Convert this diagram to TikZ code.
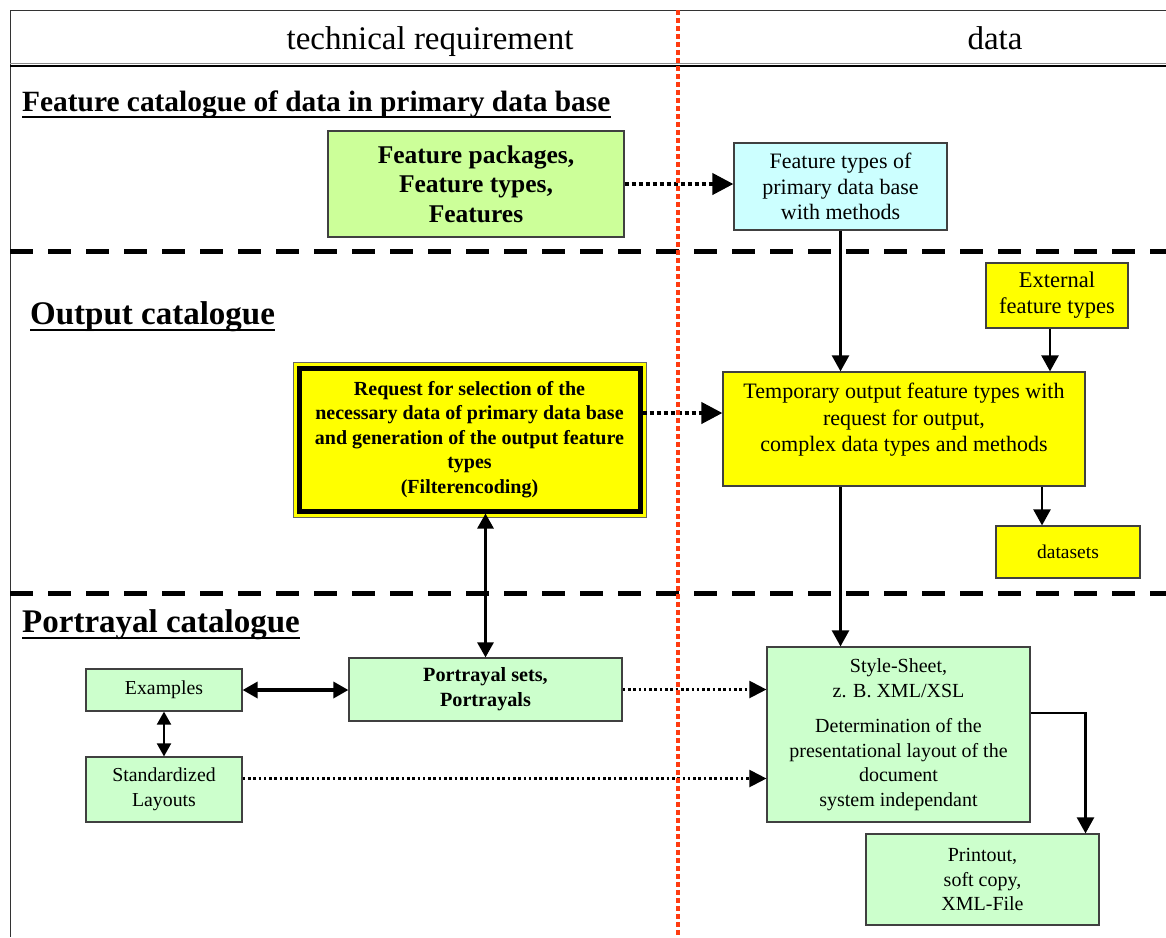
\documentclass[tikz,border=0pt]{standalone}
\usepackage{fontspec}
\setmainfont{Liberation Serif}
\usetikzlibrary{arrows.meta,calc}

\definecolor{lgreen}{HTML}{CCFFCC}
\definecolor{ygreen}{HTML}{CCFF99}
\definecolor{lcyan}{HTML}{CCFFFF}
\definecolor{yel}{HTML}{FFFF00}
\definecolor{sepred}{HTML}{FF3B10}

\begin{document}
\begin{tikzpicture}[x=1pt,y=-1pt,
  box/.style={draw=black!75, line width=1.2pt, align=center, inner sep=0pt},
  hdr/.style={inner sep=0pt, anchor=base, font=\fontsize{33}{36}\selectfont},
  title/.style={inner sep=0pt, anchor=base west, font=\fontsize{#1}{#1}\selectfont\bfseries},
  uline/.style={line width=2.6pt},
  sep/.style={line width=5pt, dash pattern=on 23pt off 15pt},
  solidarr/.style={line width=2.4pt, -{Triangle[length=16pt,width=17pt]}},
  bigdot/.style={line width=4pt, dash pattern=on 4pt off 3pt, -{Triangle[length=21pt,width=21pt]}},
  thindot/.style={line width=2.2pt, dash pattern=on 2.6pt off 2.7pt, -{Triangle[length=17pt,width=17pt]}},
  twoway/.style={line width=#1, {Triangle[length=15pt,width=16pt]}-{Triangle[length=15pt,width=16pt]}},
]
\useasboundingbox (0,0) rectangle (1166,937);

% frame and header
\draw[line width=1pt, black!80] (10,10) -- (1166,10);
\draw[line width=1pt, black!80] (10,10) -- (10,937);
\draw[line width=1pt, black!45] (10,63) -- (1166,63);
\draw[line width=2pt, black] (10,66) -- (1166,66);
\node[hdr] (hreq) at (430,49) {technical requirement};
\node[hdr] (hdat) at (995,49) {data};

% section separators
\draw[sep] (10,251) -- (1166,251);
\draw[sep] (10,593) -- (1166,593);

% section titles
\node[title=29.4] (t1) at (22,111) {Feature catalogue of data in primary data base};
\draw[uline] ([yshift=-6pt]t1.base west) -- ([yshift=-6pt]t1.base east);
\node[title=33] (t2) at (30,324) {Output catalogue};
\draw[uline] ([yshift=-6pt]t2.base west) -- ([yshift=-6pt]t2.base east);
\node[title=33] (t3) at (22,632) {Portrayal catalogue};
\draw[uline] ([yshift=-6pt]t3.base west) -- ([yshift=-6pt]t3.base east);

% feature catalogue
\node[box, fill=ygreen, minimum width=296pt, minimum height=106pt,
      font=\fontsize{25.5}{29.5}\selectfont\bfseries] (fp) at (476,184)
  {Feature packages,\\Feature types,\\Features};
\node[box, fill=lcyan, minimum width=213pt, minimum height=87pt,
      font=\fontsize{22}{25.5}\selectfont] (ft) at (840.5,186.5)
  {Feature types of\\primary data base\\with methods};

% output catalogue
\node[box, fill=yel, minimum width=142pt, minimum height=65pt,
      font=\fontsize{22.5}{26}\selectfont] (ext) at (1057,295.5)
  {External\\feature types};
\node[box, fill=yel, minimum width=362pt, minimum height=114pt] (tmp) at (904,429) {};
\node[inner sep=0pt, align=center, font=\fontsize{22}{26.5}\selectfont] (tmptxt) at (904,420)
  {Temporary output feature types with\\request for output,\\complex data types and methods};
\node[box, fill=yel, minimum width=144pt, minimum height=52pt,
      font=\fontsize{19.5}{22}\selectfont] (ds) at (1068,552) {datasets};

\draw[line width=0.8pt, black!60, fill=yel] (293,362) rectangle (646,517);
\node[draw=black, line width=5pt, fill=yel, align=center, inner sep=0pt,
      minimum width=341pt, minimum height=143pt,
      font=\fontsize{20}{24.5}\selectfont\bfseries] (req) at (469.5,439.5)
  {Request for selection of the\\necessary data of primary data base\\and generation of the output feature\\types\\(Filterencoding)};

% portrayal catalogue
\node[box, fill=lgreen, minimum width=273pt, minimum height=63pt,
      font=\fontsize{20.2}{25}\selectfont\bfseries] (ps) at (485.5,689.5)
  {Portrayal sets,\\Portrayals};
\node[box, fill=lgreen, minimum width=156pt, minimum height=42pt,
      font=\fontsize{19.8}{24.5}\selectfont] (ex) at (164,690) {Examples};
\node[box, fill=lgreen, minimum width=156pt, minimum height=65pt,
      font=\fontsize{19.8}{24.5}\selectfont] (std) at (164,789.5) {Standardized\\Layouts};
\node[box, fill=lgreen, minimum width=263pt, minimum height=175pt,
      font=\fontsize{20}{24.5}\selectfont] (ss) at (898.5,734.5)
  {Style-Sheet,\\z. B. XML/XSL\\[11pt]Determination of the\\presentational layout of the\\document\\system independant};
\node[box, fill=lgreen, minimum width=233pt, minimum height=91pt,
      font=\fontsize{20}{24.5}\selectfont] (po) at (982.5,879.5)
  {Printout,\\soft copy,\\XML-File};

% connectors
\draw[bigdot] (fp.east) -- (fp.east -| ft.west);
\draw[bigdot] ([yshift=26.5pt]req.east) -- ([yshift=26.5pt]req.east -| tmp.west);
\draw[solidarr] (ft.south) -- (ft.south |- tmp.north);
\draw[solidarr] ([xshift=-7pt]ext.south) -- ([xshift=-7pt]ext.south |- tmp.north);
\draw[solidarr] ([xshift=-26pt]ds.north |- tmp.south) -- ([xshift=-26pt]ds.north);
\draw[solidarr] (tmp.south -| ft.south) -- (ss.north -| ft.south);
\draw[twoway=2.8pt] (ps.north |- req.south) -- (ps.north);
\draw[twoway=3.4pt] (ex.east) -- (ex.east -| ps.west);
\draw[line width=2pt, {Triangle[length=13pt,width=14pt]}-{Triangle[length=13pt,width=14pt]}] (ex.south) -- (std.north);
\draw[thindot] (ps.east) -- (ps.east -| ss.west);
\draw[thindot] ([yshift=11pt]std.east) -- ([yshift=11pt]std.east -| ss.west);
\draw[solidarr] ([yshift=21.5pt]ss.east) -| ([xshift=103pt]po.north);

% column divider
\draw[sepred, line width=4.5pt, dash pattern=on 5pt off 3pt] (678,10) -- (678,937);
\end{tikzpicture}
\end{document}
